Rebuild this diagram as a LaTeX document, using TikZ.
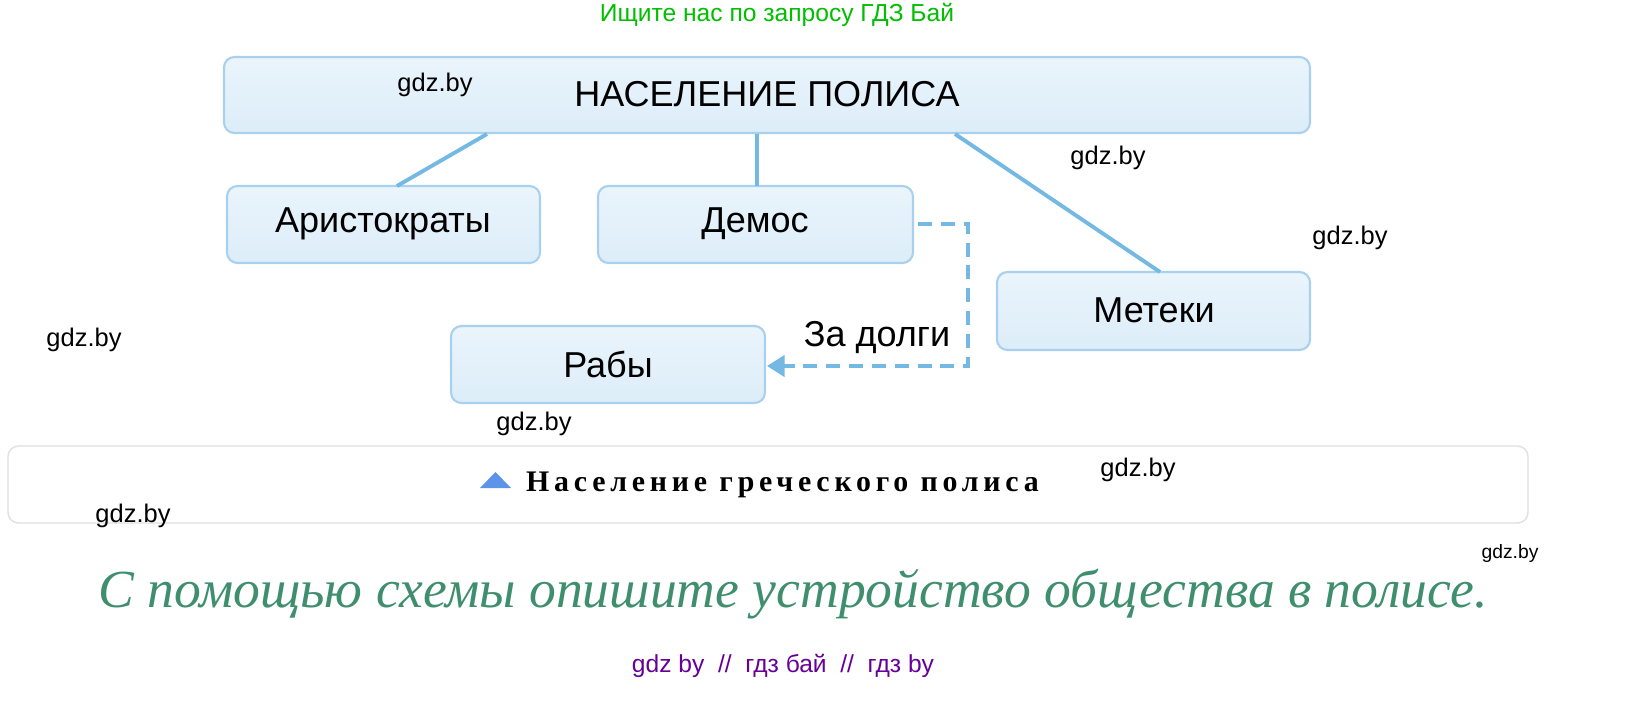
\documentclass[tikz,border=0pt]{standalone}
\usepackage{fontspec}
\setmainfont{Liberation Serif}
\newfontfamily\boxfont{Liberation Sans}
\usetikzlibrary{arrows.meta}
\definecolor{bfill}{HTML}{DCEDF9}
\definecolor{bdraw}{HTML}{A9D0EC}
\definecolor{lineb}{HTML}{74B8E4}
\definecolor{tgreen}{HTML}{3F8F6F}
\begin{document}
\begin{tikzpicture}[x=0.02cm,y=-0.02cm,
  box/.style={draw=bdraw,line width=1.2pt,rounded corners=6pt,top color=bfill!60,bottom color=bfill},
  bt/.style={font=\boxfont\fontsize{20.5}{24}\selectfont},
  wm/.style={font=\boxfont\fontsize{14.5}{16}\selectfont},
  conn/.style={draw=lineb,line width=2.2pt}]
\useasboundingbox (0,0) rectangle (1643,717);
\fill[white] (0,0) rectangle (1643,717);
\node[font=\boxfont\fontsize{14}{16}\selectfont,text=green!75!black] (g) at (777,15) {Ищите нас по запросу ГДЗ Бай};
\draw[box] (224,57) rectangle (1310,133);
\node[bt] (top) at (767,94) {НАСЕЛЕНИЕ ПОЛИСА};
\draw[box] (227,186) rectangle (540,263); \node[bt] (ar) at (383,224) {Аристократы};
\draw[box] (598,186) rectangle (913,263); \node[bt] (de) at (755,224) {Демос};
\draw[box] (997,272) rectangle (1310,350); \node[bt] (me) at (1154,310) {Метеки};
\draw[box] (451,326) rectangle (765,403); \node[bt] (ra) at (608,364) {Рабы};
\coordinate (t1) at (487,134); \coordinate (a1) at (397,186);
\coordinate (t2) at (757,134); \coordinate (d1) at (757,186);
\coordinate (t3) at (955,134); \coordinate (m1) at (1160,272);
\draw[conn] (t1)--(a1); \draw[conn] (t2)--(d1); \draw[conn] (t3)--(m1);
\coordinate (ds) at (918,224); \coordinate (c1) at (968,224); \coordinate (c2) at (968,366); \coordinate (re) at (767,366);
\draw[conn,dashed,dash pattern=on 8pt off 5pt,-{Triangle[length=10pt,width=12pt]}] (ds)--(c1)--(c2)--(re);
\node[bt] (zd) at (877,338) {За долги};
\draw[draw=black!12,line width=0.8pt,rounded corners=6pt] (8,446) rectangle (1528,523);
\fill[lineb!80!blue] (480,488) -- (511,488) -- (495.5,472) -- cycle;
\node[font=\bfseries\fontsize{17}{19}\selectfont,anchor=west] (cap) at (520,485) {\addfontfeature{LetterSpace=16}Население греческого полиса};
\node[font=\itshape\fontsize{30.5}{35}\selectfont,text=tgreen] (q) at (793,594) {С помощью схемы опишите устройство общества в полисе.};
\node[font=\boxfont\fontsize{14}{16}\selectfont,text=violet!80!blue] (b) at (783,666) {gdz by \ // \ гдз бай \ // \ гдз by};
\node[wm] at (435,85) {gdz.by};
\node[wm] at (1108,158) {gdz.by};
\node[wm] at (1350,238) {gdz.by};
\node[wm] at (84,340) {gdz.by};
\node[wm] at (534,424) {gdz.by};
\node[wm] at (1138,470) {gdz.by};
\node[wm] at (133,516) {gdz.by};
\node[font=\boxfont\fontsize{11}{13}\selectfont] at (1510,553) {gdz.by};
\end{tikzpicture}
\end{document}
